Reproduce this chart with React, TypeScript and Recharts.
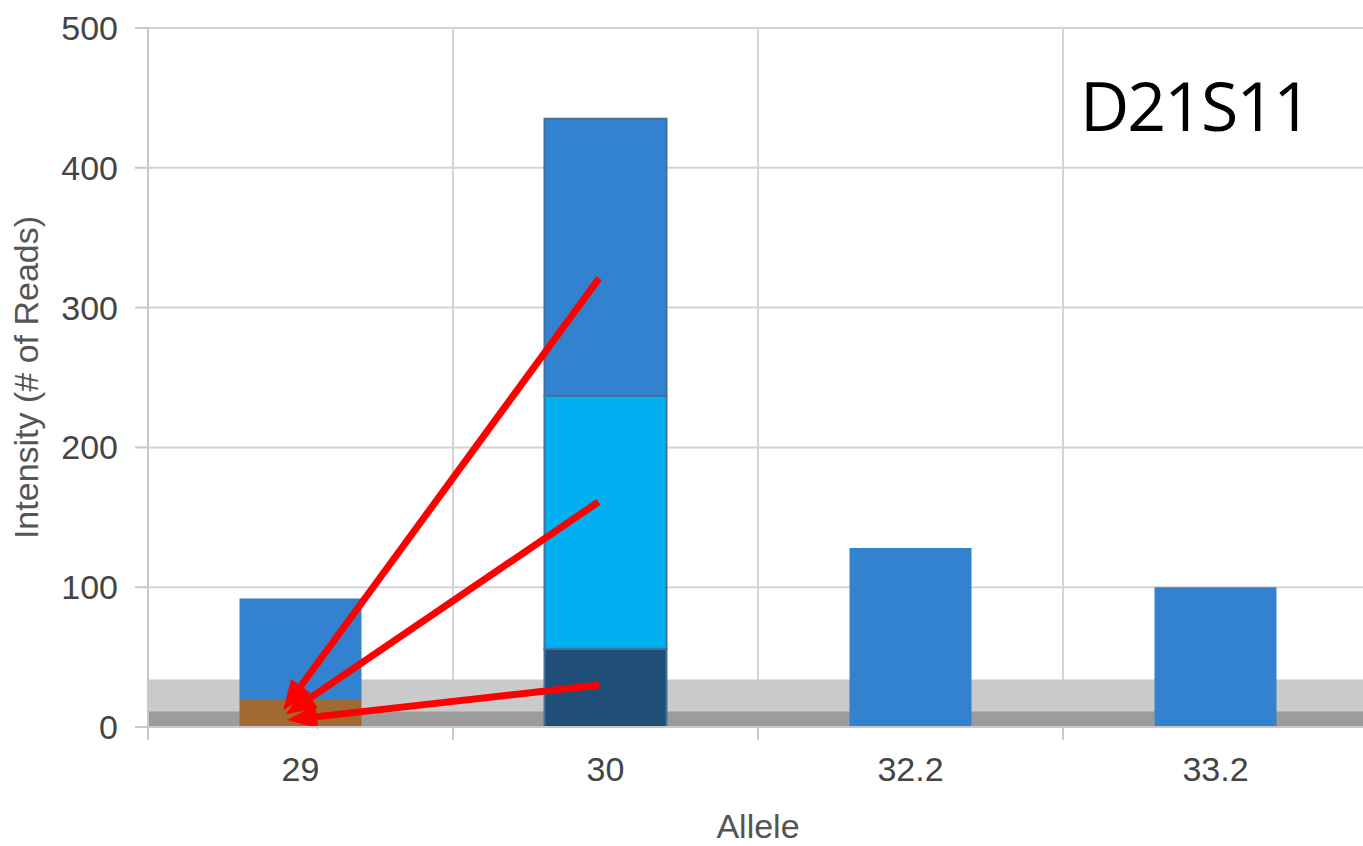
import React from 'react';
import { BarChart, Bar, XAxis, YAxis, CartesianGrid, ReferenceArea, ReferenceLine, Cell, Label } from 'recharts';

const alleles = ['29', '30', '32.2', '33.2'];
const baseReads = [20, 56, 0, 0];
const midReads = [0, 181, 0, 0];
const topReads = [72, 198, 128, 100];
const baseColors = ['#a06a32', '#1f4e79', '#a06a32', '#a06a32'];
const yTicks = [0, 100, 200, 300, 400, 500];
// allele boundaries on an index axis (0 = first allele)
const boundaryTicks = [-0.5, 0.5, 1.5, 2.5, 3.5];
const thresholdLow = 11;
const thresholdHigh = 34;
// red arrows: x on the allele index axis, y in reads
const arrowStartX = [0.979, 0.977, 0.979];
const arrowStartY = [321, 161, 30];
const arrowEndX = [-0.057, -0.048, -0.044];
const arrowEndY = [12, 9, 5];

const data = alleles.map((allele, i) => ({
  allele,
  idx: i,
  base: baseReads[i],
  mid: midReads[i],
  top: topReads[i],
}));

const tickStyle = { fill: '#444', fontSize: 34, fontFamily: 'Liberation Sans, Arial, sans-serif' };

const Arrow = (props: any) => {
  const { x1, y1, x2, y2 } = props;
  const dx = x2 - x1;
  const dy = y2 - y1;
  const len = Math.hypot(dx, dy) || 1;
  const ux = dx / len;
  const uy = dy / len;
  const head = 30;
  const half = 12;
  const bx = x2 - ux * head;
  const by = y2 - uy * head;
  const px = -uy * half;
  const py = ux * half;
  return (
    <g>
      <line x1={x1} y1={y1} x2={x2 - ux * (head - 4)} y2={y2 - uy * (head - 4)} stroke="#ff0000" strokeWidth={7} />
      <polygon points={`${x2},${y2} ${bx + px},${by + py} ${bx - px},${by - py}`} fill="#ff0000" />
    </g>
  );
};

export default function App() {
  return (
    <div style={{ position: 'absolute', left: 0, top: 0, width: 1363, height: 846, overflow: 'hidden', background: '#fff' }}>
      <BarChart
        width={1368}
        height={846}
        data={data}
        margin={{ top: 28, right: 0, left: 0, bottom: 0 }}
        barCategoryGap="30%"
      >
        <CartesianGrid xAxisId="a" stroke="#d4d4d4" strokeWidth={2} />
        <XAxis
          xAxisId="a"
          dataKey="idx"
          type="number"
          domain={[-0.5, 3.5]}
          allowDataOverflow
          ticks={boundaryTicks}
          interval={0}
          tickFormatter={() => ''}
          tickSize={13}
          height={1}
          axisLine={{ stroke: '#c8c8c8', strokeWidth: 2 }}
          tickLine={{ stroke: '#c8c8c8', strokeWidth: 2 }}
        />
        <XAxis
          xAxisId="b"
          dataKey="allele"
          height={118}
          axisLine={false}
          tickLine={false}
          tickSize={0}
          tickMargin={29}
          tick={tickStyle}
        >
          <Label value="Allele" position="insideBottom" offset={8} style={{ ...tickStyle, fill: '#555' }} />
        </XAxis>
        <YAxis
          domain={[0, 500]}
          ticks={yTicks}
          width={148}
          tickSize={13}
          tickMargin={17}
          tick={tickStyle}
          axisLine={{ stroke: '#c8c8c8', strokeWidth: 2 }}
          tickLine={{ stroke: '#c8c8c8', strokeWidth: 2 }}
        >
          <Label
            value="Intensity (# of Reads)"
            angle={-90}
            position="insideLeft"
            offset={26}
            style={{ ...tickStyle, fill: '#555', textAnchor: 'middle' }}
          />
        </YAxis>
        <ReferenceArea xAxisId="a" y1={0} y2={thresholdHigh} fill="#cacaca" fillOpacity={1} stroke="none" />
        <ReferenceArea xAxisId="a" y1={0} y2={thresholdLow} fill="#9c9c9c" fillOpacity={1} stroke="none" />
        <Bar xAxisId="b" dataKey="base" stackId="s" isAnimationActive={false}>
          {data.map((d, i) => (
            <Cell key={d.allele} fill={baseColors[i]} stroke={i === 1 ? '#41719c' : 'none'} strokeWidth={2} />
          ))}
        </Bar>
        <Bar xAxisId="b" dataKey="mid" stackId="s" fill="#00b0f0" isAnimationActive={false}>
          {data.map((d, i) => (
            <Cell key={d.allele} stroke={i === 1 ? '#41719c' : 'none'} strokeWidth={2} />
          ))}
        </Bar>
        <Bar xAxisId="b" dataKey="top" stackId="s" fill="#3282d0" isAnimationActive={false}>
          {data.map((d, i) => (
            <Cell key={d.allele} stroke={i === 1 ? '#41719c' : 'none'} strokeWidth={2} />
          ))}
        </Bar>
        {arrowStartX.map((sx, i) => (
          <ReferenceLine
            key={i}
            xAxisId="a"
            ifOverflow="visible"
            segment={[
              { x: sx, y: arrowStartY[i] },
              { x: arrowEndX[i], y: arrowEndY[i] },
            ]}
            shape={Arrow}
          />
        ))}
      </BarChart>
      <div
        style={{
          position: 'absolute',
          left: 1080,
          top: 71,
          fontSize: 68,
          lineHeight: 1,
          letterSpacing: -2,
          color: '#000',
          fontFamily: '"Open Sans", "Noto Sans", sans-serif',
        }}
      >
        D21S11
      </div>
    </div>
  );
}
